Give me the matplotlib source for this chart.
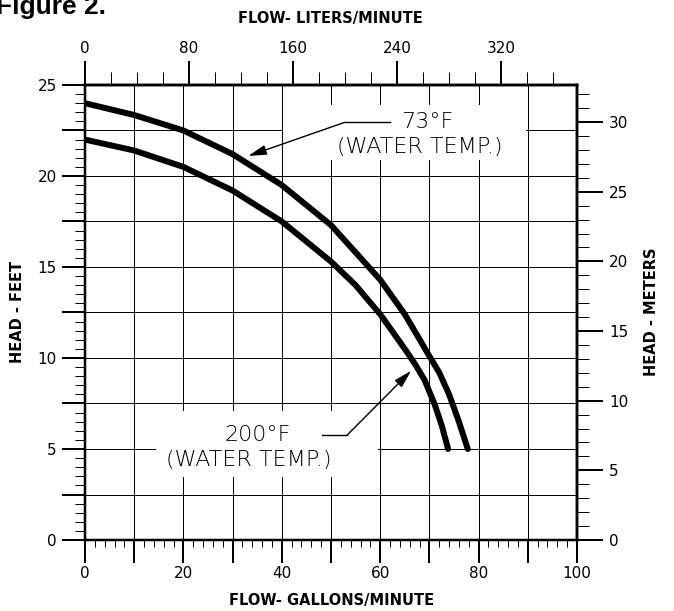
import matplotlib
matplotlib.use("Agg")
import matplotlib.pyplot as plt
from matplotlib.patches import Rectangle
from matplotlib.ticker import MultipleLocator, FuncFormatter

# ---- data ----
flow_73 = [0, 10, 20, 30, 40, 50, 60, 65, 70, 72, 74, 76, 77.8]
head_73 = [24.0, 23.35, 22.5, 21.2, 19.5, 17.3, 14.3, 12.4, 10.1, 9.2, 8.0, 6.5, 5.0]
flow_200 = [0, 10, 20, 30, 40, 50, 55, 60, 65, 67, 69, 71, 72.5, 73.8]
head_200 = [22.0, 21.4, 20.5, 19.2, 17.5, 15.3, 14.0, 12.4, 10.5, 9.7, 8.8, 7.5, 6.3, 5.0]

GAL_TO_L = 3.785
FT_TO_RIGHT = 1.3064
PX = 0.72  # points per pixel at dpi 100

fig = plt.figure(figsize=(6.74, 6.11), dpi=100)
ax = fig.add_axes([0.1261, 0.1162, 0.7300, 0.7447])
ax.set_xlim(0, 100)
ax.set_ylim(0, 25)
ax.set_axisbelow(True)

ax.xaxis.set_major_locator(MultipleLocator(10))
ax.xaxis.set_minor_locator(MultipleLocator(2))
ax.xaxis.set_major_formatter(FuncFormatter(lambda v, p: f"{v:.0f}" if round(v) % 20 == 0 else ""))
ax.yaxis.set_major_locator(MultipleLocator(2.5))
ax.yaxis.set_minor_locator(MultipleLocator(0.5))
ax.yaxis.set_major_formatter(FuncFormatter(lambda v, p: f"{v:.0f}" if abs(v / 5 - round(v / 5)) < 1e-6 else ""))
ax.tick_params(which="major", direction="out", length=23 * PX, width=2 * PX, labelsize=11)
ax.tick_params(axis="x", which="major", pad=3 * PX)
ax.tick_params(axis="y", which="major", pad=5 * PX)
ax.tick_params(axis="x", which="minor", direction="out", length=7 * PX, width=1 * PX)
ax.tick_params(axis="y", which="minor", direction="out", length=10 * PX, width=1 * PX)
ax.grid(which="major", color="black", lw=1 * PX)
for s in ax.spines.values():
    s.set_linewidth(2.5 * PX)

top = ax.secondary_xaxis("top", functions=(lambda x: x * GAL_TO_L, lambda x: x / GAL_TO_L))
top.xaxis.set_major_locator(MultipleLocator(80))
top.xaxis.set_minor_locator(MultipleLocator(20))
top.tick_params(which="major", length=24 * PX, width=2 * PX, labelsize=11, pad=5 * PX)
top.tick_params(which="minor", length=13 * PX, width=1 * PX)
top.spines["top"].set_linewidth(2.5 * PX)

right = ax.secondary_yaxis("right", functions=(lambda y: y * FT_TO_RIGHT, lambda y: y / FT_TO_RIGHT))
right.yaxis.set_major_locator(MultipleLocator(5))
right.yaxis.set_minor_locator(MultipleLocator(1))
right.tick_params(which="major", length=26 * PX, width=2 * PX, labelsize=11, pad=6 * PX)
right.tick_params(which="minor", length=12 * PX, width=1 * PX)
right.spines["right"].set_linewidth(2.5 * PX)

# white label boxes that hide the grid
ax.add_patch(Rectangle((40.2, 20.9), 49.5, 3.0, facecolor="white", edgecolor="none", zorder=1))
ax.add_patch(Rectangle((14.5, 3.45), 45.1, 3.65, facecolor="white", edgecolor="none", zorder=1))

# curves
ax.plot(flow_73, head_73, color="black", lw=6 * PX, solid_capstyle="round", solid_joinstyle="round", zorder=3)
ax.plot(flow_200, head_200, color="black", lw=6 * PX, solid_capstyle="round", solid_joinstyle="round", zorder=3)

txt = dict(fontsize=16, fontweight="light", ha="center", va="center", zorder=4)
ax.text(69.5, 22.95, "73°F", **txt)
ax.text(68.1, 21.6, "(WATER TEMP.)", **txt)
ax.text(35.0, 5.77, "200°F", **txt)
ax.text(33.3, 4.4, "(WATER TEMP.)", **txt)

arrow = dict(arrowstyle="-|>,head_length=1.1,head_width=0.3", color="black", lw=1,
             shrinkA=0, shrinkB=0, mutation_scale=10)
ax.plot([62.0, 52.8], [22.95, 22.95], color="black", lw=1, zorder=4)
ax.annotate("", xy=(33.2, 21.1), xytext=(52.8, 22.95), arrowprops=arrow, zorder=4)
ax.plot([48.2, 53.3], [5.77, 5.77], color="black", lw=1, zorder=4)
ax.annotate("", xy=(66.3, 9.3), xytext=(53.3, 5.77), arrowprops=arrow, zorder=4)

title_font = dict(fontsize=10.5, fontweight="bold", ha="center", va="center")
fig.text(330 / 674, 1 - 19 / 611, "FLOW- LITERS/MINUTE", **title_font)
fig.text(332 / 674, 1 - 600 / 611, "FLOW- GALLONS/MINUTE", **title_font)
fig.text(18 / 674, 1 - 312 / 611, "HEAD - FEET", rotation=90, **title_font)
fig.text(651 / 674, 1 - 312 / 611, "HEAD - METERS", rotation=90, **title_font)
fig.text(-4 / 674, 1 - 14 / 611, "Figure 2.", fontsize=19, fontweight="bold",
         family="Liberation Sans", ha="left", va="baseline")

fig.savefig("out.png", dpi=100, facecolor="white")
